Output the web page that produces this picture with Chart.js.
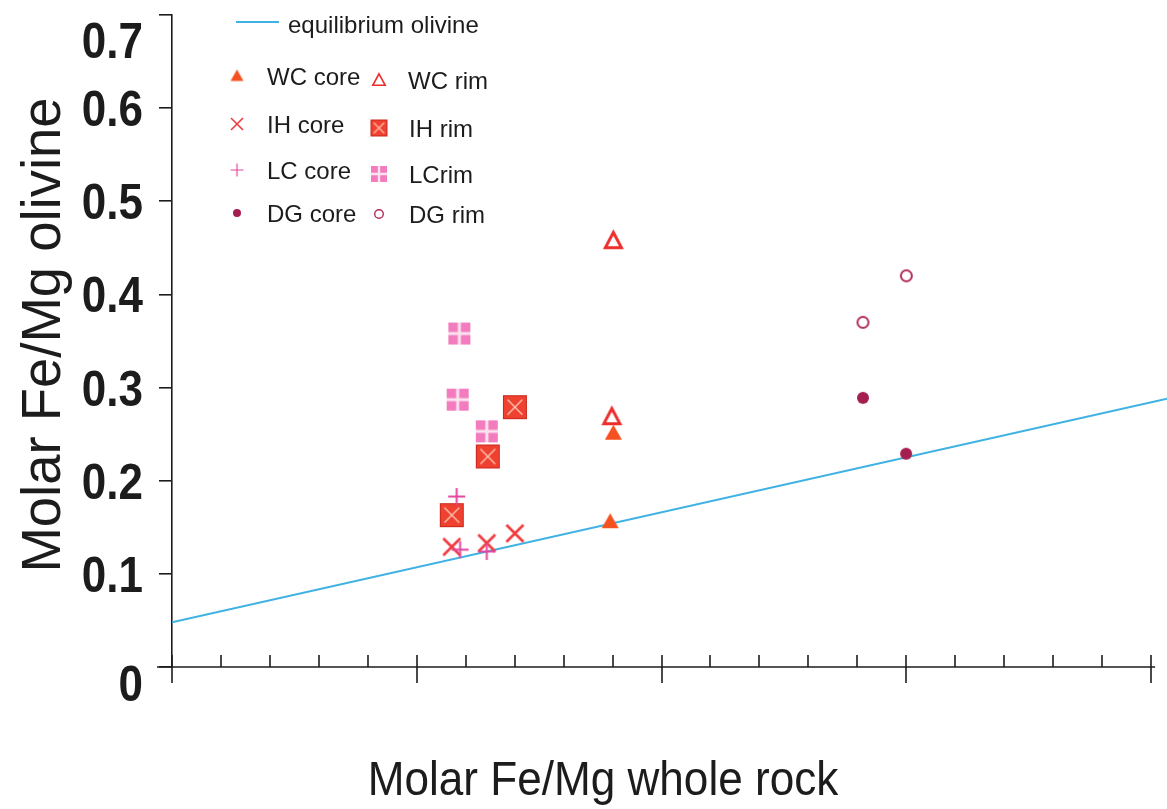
<!DOCTYPE html>
<html>
<head>
<meta charset="utf-8">
<script src="https://cdn.jsdelivr.net/npm/chart.js@4/dist/chart.umd.min.js"></script>
<style>
html,body{margin:0;padding:0;background:#fff;}
#wrap{width:1167px;height:809px;}
</style>
</head>
<body>
<div id="wrap"><canvas id="c" width="1167" height="809"></canvas></div>
<script>
// ---- data (x in major-tick units, no labels on the original) ----
const seriesNames = ['equilibrium olivine','WC core','WC rim','IH core','IH rim','LC core','LCrim','DG core','DG rim'];
const eqX = [0, 4.065];            const eqY = [0.048, 0.288];
const wcCoreX = [1.79, 1.803];     const wcCoreY = [0.156, 0.251];
const wcRimX = [1.803, 1.797];     const wcRimY = [0.458, 0.269];
const ihCoreX = [1.143, 1.286, 1.401]; const ihCoreY = [0.129, 0.133, 0.1435];
const ihRimX = [1.143, 1.29, 1.401];   const ihRimY = [0.163, 0.226, 0.279];
const lcCoreX = [1.163, 1.177, 1.286]; const lcCoreY = [0.183, 0.126, 0.124];
const lcRimX = [1.174, 1.167, 1.286];  const lcRimY = [0.358, 0.287, 0.253];
const dgCoreX = [2.823, 2.999];    const dgCoreY = [0.289, 0.229];
const dgRimX = [2.823, 3.0];       const dgRimY = [0.370, 0.42];
const yTickValues = [0, 0.1, 0.2, 0.3, 0.4, 0.5, 0.6, 0.7];
const yTickLabels = ['0', '0.1', '0.2', '0.3', '0.4', '0.5', '0.6', '0.7'];
const xMajorTicks = [0, 1, 2, 3, 4];
const xMinorStep = 0.2;
const xTitle = 'Molar Fe/Mg whole rock';
const yTitle = 'Molar Fe/Mg olivine';

const pts = (xs, ys) => xs.map((x, i) => ({x: x, y: ys[i]}));

// ---- marker images ----
function marker(kind, s, lw) {
  const pad = 4;
  const c = document.createElement('canvas');
  c.width = c.height = Math.ceil(s + 2 * pad);
  const g = c.getContext('2d');
  const m = c.width / 2, h = s / 2;
  g.lineCap = 'butt';
  switch (kind) {
    case 'triFill':
      g.fillStyle = '#f5501f';
      g.beginPath(); g.moveTo(m, m - h); g.lineTo(m + h, m + h * 0.75); g.lineTo(m - h, m + h * 0.75); g.closePath(); g.fill();
      break;
    case 'triOpen':
      g.strokeStyle = '#ef2d2d'; g.lineWidth = lw; g.lineJoin = 'miter';
      g.beginPath(); g.moveTo(m, m - h + lw / 2); g.lineTo(m + h - lw / 2, m + h * 0.75); g.lineTo(m - h + lw / 2, m + h * 0.75); g.closePath(); g.stroke();
      break;
    case 'xCross':
      g.strokeStyle = '#ef3a3e'; g.lineWidth = lw;
      g.beginPath(); g.moveTo(m - h, m - h); g.lineTo(m + h, m + h); g.moveTo(m + h, m - h); g.lineTo(m - h, m + h); g.stroke();
      break;
    case 'sqX':
      g.fillStyle = '#f0402f'; g.fillRect(m - h, m - h, s, s);
      g.strokeStyle = '#c8281e'; g.lineWidth = 1; g.strokeRect(m - h + 0.5, m - h + 0.5, s - 1, s - 1);
      g.strokeStyle = '#fbc3b0'; g.lineWidth = lw;
      g.beginPath(); g.moveTo(m - h * 0.62, m - h * 0.62); g.lineTo(m + h * 0.62, m + h * 0.62);
      g.moveTo(m + h * 0.62, m - h * 0.62); g.lineTo(m - h * 0.62, m + h * 0.62); g.stroke();
      break;
    case 'plus':
      g.strokeStyle = '#e2469f'; g.lineWidth = lw;
      g.beginPath(); g.moveTo(m - h, m); g.lineTo(m + h, m); g.moveTo(m, m - h); g.lineTo(m, m + h); g.stroke();
      break;
    case 'sqPlus':
      g.fillStyle = '#f27cbd'; g.fillRect(m - h, m - h, s, s);
      g.strokeStyle = '#fbe3f0'; g.lineWidth = lw;
      g.beginPath(); g.moveTo(m - h, m); g.lineTo(m + h, m); g.moveTo(m, m - h); g.lineTo(m, m + h); g.stroke();
      break;
    case 'dot':
      g.fillStyle = '#a51e50';
      g.beginPath(); g.arc(m, m, h, 0, Math.PI * 2); g.fill();
      break;
    case 'ring':
      g.strokeStyle = '#b32d5b'; g.lineWidth = lw;
      g.beginPath(); g.arc(m, m, h - lw / 2, 0, Math.PI * 2); g.stroke();
      break;
  }
  return c;
}

const dataMarkers = {
  wcCore: marker('triFill', 17), wcRim: marker('triOpen', 19, 3),
  ihCore: marker('xCross', 17, 2.6), ihRim: marker('sqX', 24, 1.4),
  lcCore: marker('plus', 17, 2), lcRim: marker('sqPlus', 22, 3),
  dgCore: marker('dot', 12), dgRim: marker('ring', 13, 2)
};
const legendMarkers = {
  wcCore: marker('triFill', 13), wcRim: marker('triOpen', 14, 1.6),
  ihCore: marker('xCross', 12, 1.6), ihRim: marker('sqX', 17, 1.2),
  lcCore: marker('plus', 13, 1.2), lcRim: marker('sqPlus', 16, 2.4),
  dgCore: marker('dot', 8), dgRim: marker('ring', 10, 1.4)
};

function sc(label, key, data) {
  return {label: label, data: data, pointStyle: dataMarkers[key], legendKey: key,
          pointRadius: 10, showLine: false};
}

const datasets = [
  sc(seriesNames[5], 'lcCore', pts(lcCoreX, lcCoreY)),
  sc(seriesNames[3], 'ihCore', pts(ihCoreX, ihCoreY)),
  sc(seriesNames[4], 'ihRim', pts(ihRimX, ihRimY)),
  sc(seriesNames[6], 'lcRim', pts(lcRimX, lcRimY)),
  sc(seriesNames[1], 'wcCore', pts(wcCoreX, wcCoreY)),
  sc(seriesNames[2], 'wcRim', pts(wcRimX, wcRimY)),
  sc(seriesNames[7], 'dgCore', pts(dgCoreX, dgCoreY)),
  sc(seriesNames[8], 'dgRim', pts(dgRimX, dgRimY)),
  {label: seriesNames[0], data: pts(eqX, eqY), showLine: true, pointRadius: 0,
   borderColor: '#3fb2e3', borderWidth: 2, fill: false, legendKey: 'line'}
];

// legend layout (marker x,y ; text x)
const legendLayout = [
  {key: 'line',   x: 257, y: 22, tx: 288},
  {key: 'wcCore', x: 237, y: 76, tx: 267},
  {key: 'wcRim',  x: 379, y: 80, tx: 408},
  {key: 'ihCore', x: 237, y: 124, tx: 267},
  {key: 'ihRim',  x: 379, y: 128, tx: 409},
  {key: 'lcCore', x: 237, y: 170, tx: 267},
  {key: 'lcRim',  x: 379, y: 174, tx: 409},
  {key: 'dgCore', x: 237, y: 213, tx: 267},
  {key: 'dgRim',  x: 379, y: 214, tx: 409}
];

const FONT = '"Liberation Sans", Arial, Helvetica, sans-serif';
const INK = '#1c1c1c';

const decor = {
  id: 'decor',
  beforeDraw(chart) {
    const ctx = chart.ctx;
    ctx.save(); ctx.fillStyle = '#fff'; ctx.fillRect(0, 0, chart.width, chart.height); ctx.restore();
  },
  beforeDatasetsDraw(chart) {
    const ctx = chart.ctx, xs = chart.scales.x, ys = chart.scales.y;
    const y0 = ys.getPixelForValue(0);
    ctx.save();
    ctx.strokeStyle = INK; ctx.lineWidth = 1.6;
    // x axis line
    ctx.beginPath();
    ctx.moveTo(xs.getPixelForValue(0) - 15, y0);
    ctx.lineTo(xs.getPixelForValue(xMajorTicks[xMajorTicks.length - 1]) + 4, y0);
    ctx.stroke();
    // major ticks
    xMajorTicks.forEach(v => {
      const px = Math.round(xs.getPixelForValue(v));
      ctx.beginPath(); ctx.moveTo(px, y0 - 12); ctx.lineTo(px, y0 + 16); ctx.stroke();
    });
    // minor ticks (inside)
    for (let i = 0; i < xMajorTicks.length - 1; i++) {
      for (let k = 1; k < 5; k++) {
        const v = xMajorTicks[i] + k * xMinorStep;
        const px = Math.round(xs.getPixelForValue(v));
        ctx.beginPath(); ctx.moveTo(px, y0 - 12); ctx.lineTo(px, y0); ctx.stroke();
      }
    }
    // y tick labels
    ctx.fillStyle = INK;
    ctx.font = 'bold 50px ' + FONT;
    ctx.textAlign = 'right'; ctx.textBaseline = 'alphabetic';
    yTickValues.forEach((v, i) => {
      let py = ys.getPixelForValue(v);
      if (i === 0) py += 16;
      if (i === yTickValues.length - 1) py += 25;
      ctx.save();
      ctx.translate(143, py + 18);
      ctx.scale(0.88, 1);
      ctx.fillText(yTickLabels[i], 0, 0);
      ctx.restore();
    });
    // x title
    ctx.save();
    ctx.font = '49px ' + FONT;
    ctx.textAlign = 'center';
    ctx.translate(603, 795);
    ctx.scale(0.9, 1);
    ctx.fillText(xTitle, 0, 0);
    ctx.restore();
    // y title
    ctx.save();
    ctx.font = '55px ' + FONT;
    ctx.textAlign = 'center';
    ctx.translate(60, 335);
    ctx.rotate(-Math.PI / 2);
    ctx.scale(0.99, 1);
    ctx.fillText(yTitle, 0, 0);
    ctx.restore();
    ctx.restore();
  },
  afterDraw(chart) {
    const ctx = chart.ctx;
    ctx.save();
    ctx.font = '24px ' + FONT;
    ctx.fillStyle = INK;
    ctx.textAlign = 'left'; ctx.textBaseline = 'alphabetic';
    legendLayout.forEach(it => {
      const ds = chart.data.datasets.find(d => d.legendKey === it.key);
      if (it.key === 'line') {
        ctx.strokeStyle = ds.borderColor; ctx.lineWidth = 2;
        ctx.beginPath(); ctx.moveTo(236, it.y); ctx.lineTo(279, it.y); ctx.stroke();
        ctx.fillText(ds.label, it.tx, it.y + 11);
      } else {
        const img = legendMarkers[it.key];
        ctx.drawImage(img, it.x - img.width / 2, it.y - img.height / 2);
        ctx.fillText(ds.label, it.tx, it.y + 9);
      }
    });
    ctx.restore();
  }
};

new Chart(document.getElementById('c'), {
  type: 'scatter',
  data: {datasets: datasets},
  options: {
    responsive: false,
    animation: false,
    events: [],
    layout: {autoPadding: false, padding: {left: 0, top: 15, right: 0, bottom: 142}},
    plugins: {legend: {display: false}, tooltip: {enabled: false}, title: {display: false}},
    scales: {
      x: {type: 'linear', min: 0, max: 4.065, display: false},
      y: {
        type: 'linear', min: 0, max: 0.7,
        afterBuildTicks: s => { s.ticks = yTickValues.map(v => ({value: v})); },
        ticks: {display: false},
        grid: {drawOnChartArea: false, drawTicks: true, tickLength: 13, color: INK, lineWidth: 1.6},
        border: {display: true, color: INK, width: 1.6},
        afterFit: s => { s.width = 172; }
      }
    }
  },
  plugins: [decor]
});
</script>
</body>
</html>
